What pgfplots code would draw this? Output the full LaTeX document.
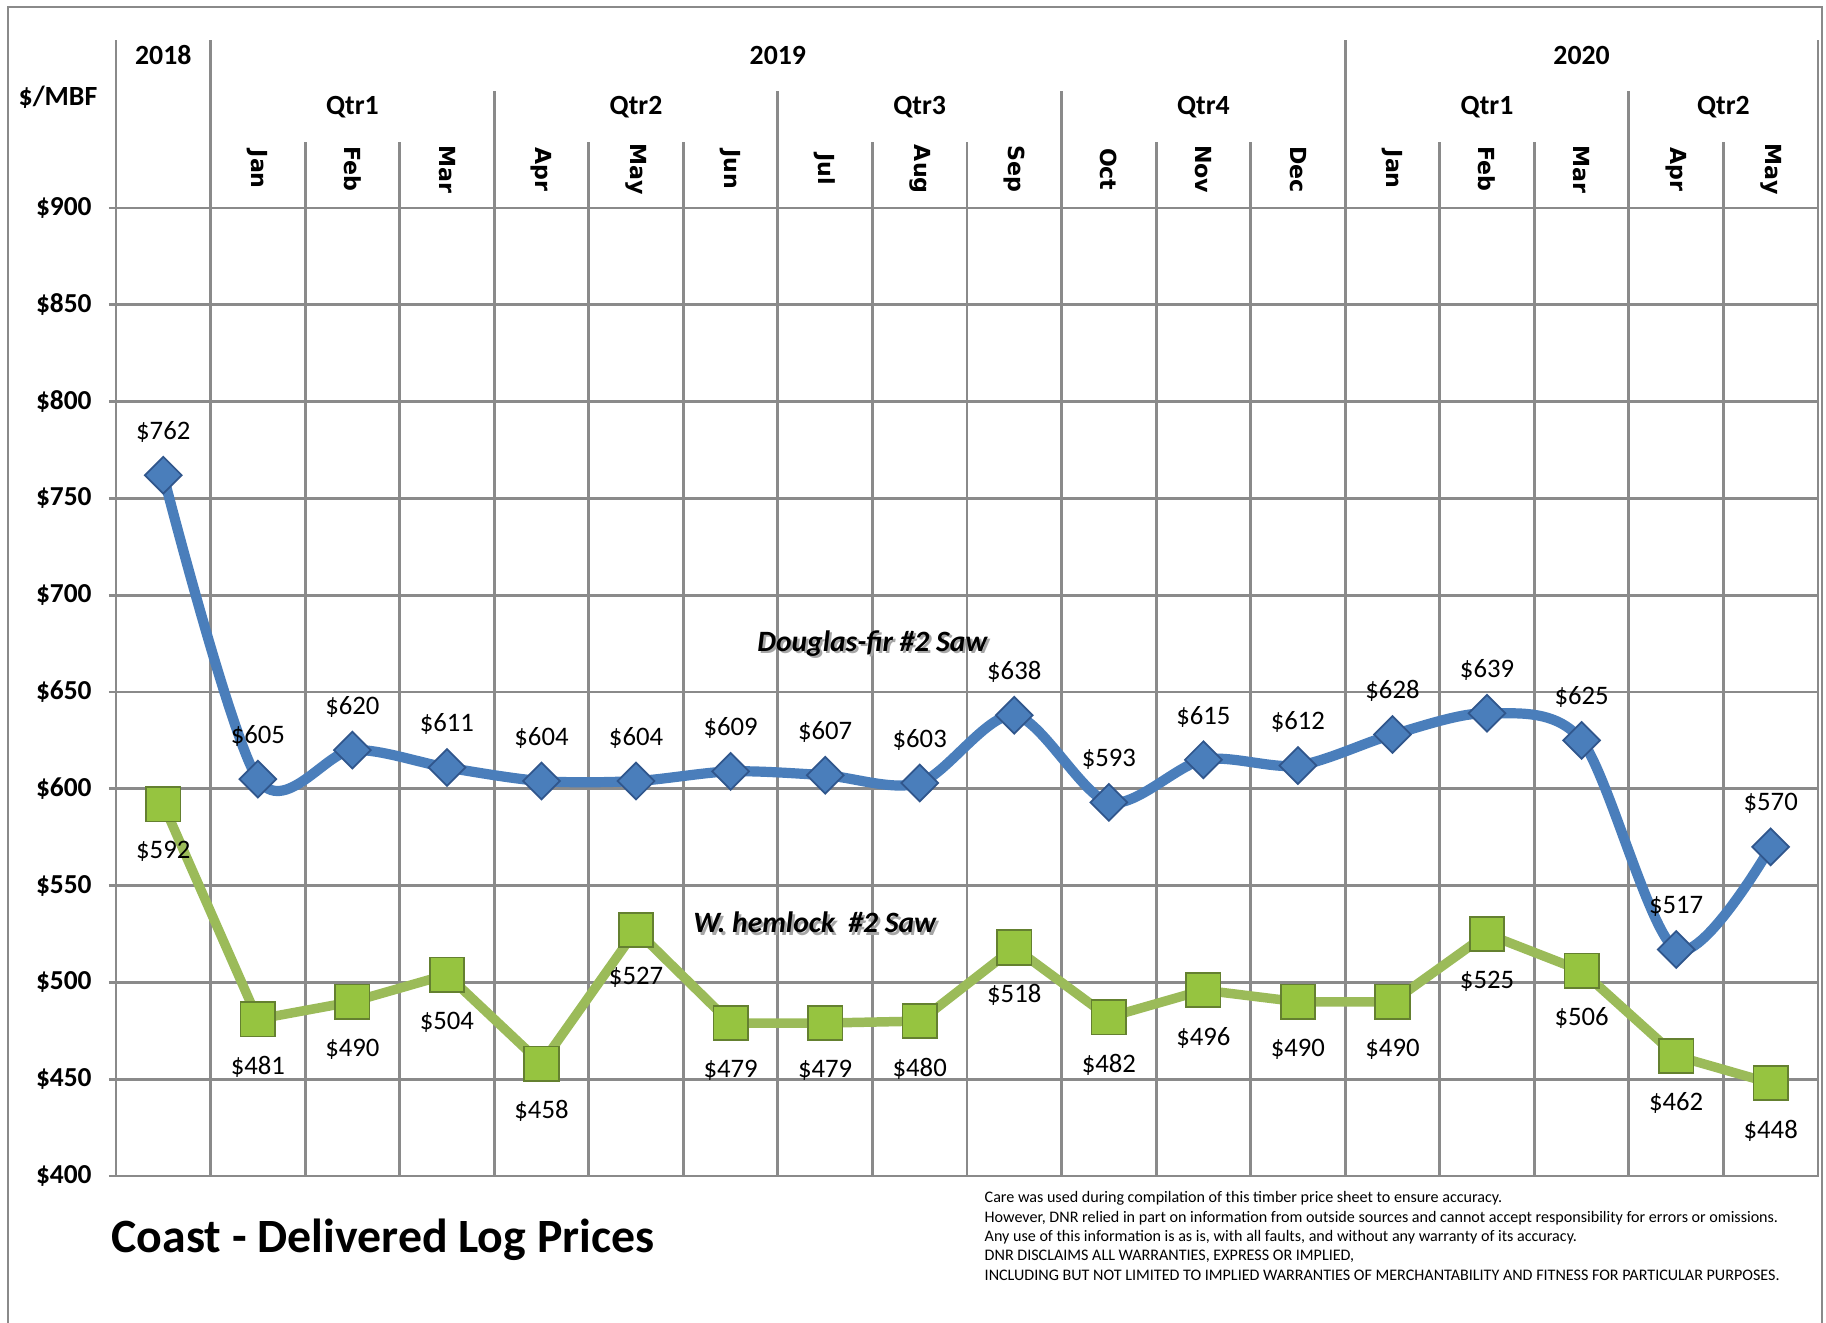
\documentclass[border=0pt]{standalone}
\usepackage{fontspec}
\setmainfont{Carlito}
\newfontfamily\monthfont{DejaVu Sans}
\usepackage{pgfplots}
\usepackage{pgfplotstable}
\pgfplotsset{compat=1.18}
\definecolor{gridgray}{RGB}{138,138,138}
\definecolor{dfblue}{RGB}{74,126,187}
\definecolor{dfedge}{RGB}{48,86,140}
\definecolor{whgreen}{RGB}{155,187,89}
\definecolor{whfill}{RGB}{150,196,64}
\definecolor{whedge}{RGB}{100,128,48}

% x = column centre, df = Douglas-fir #2 Saw, wh = W. hemlock #2 Saw
\pgfplotstableread{
x    df  wh
0.5  762 592
1.5  605 481
2.5  620 490
3.5  611 504
4.5  604 458
5.5  604 527
6.5  609 479
7.5  607 479
8.5  603 480
9.5  638 518
10.5 593 482
11.5 615 496
12.5 612 490
13.5 628 490
14.5 639 525
15.5 625 506
16.5 517 462
17.5 570 448
}\prices

\begin{document}
\begin{tikzpicture}
\path[use as bounding box] (0,0) rectangle (18.26,-13.23);
\draw[gridgray, line width=0.5pt] (0.08,-13.23) -- (0.08,-0.07) -- (18.22,-0.07) -- (18.22,-13.23);

\begin{axis}[
    at={(1.16cm,-11.76cm)}, anchor=south west,
    scale only axis, width=17.02cm, height=9.68cm,
    xmin=0, xmax=18, ymin=400, ymax=900,
    xtick={1,...,17}, xticklabels={},
    major x tick style={draw=none},
    ytick={400,450,...,900},
    tick align=outside, major tick length=0.07cm,
    ytick pos=left,
    xmajorgrids, ymajorgrids,
    grid style={gridgray, line width=0.8pt},
    axis line style={gridgray, line width=0.8pt},
    major y tick style={gridgray, line width=0.8pt},
    /pgf/number format/assume math mode=true,
    yticklabel={\textbf{\$\pgfmathprintnumber{\tick}}},
    yticklabel style={font=\fontsize{7.8}{9}\selectfont, xshift=-0.05cm},
    clip=false,
]
% header dividers
\pgfplotsinvokeforeach{0,1,13,18}{\draw[gridgray, line width=0.8pt] (axis cs:#1,900) -- (axis cs:#1,987);}
\pgfplotsinvokeforeach{4,7,10,16}{\draw[gridgray, line width=0.8pt] (axis cs:#1,900) -- (axis cs:#1,960.5);}
\pgfplotsinvokeforeach{2,3,5,6,8,9,11,12,14,15,17}{\draw[gridgray, line width=0.8pt] (axis cs:#1,900) -- (axis cs:#1,934);}
% header labels
\begin{scope}[font=\fontsize{7.9}{9}\selectfont\bfseries]
\node at (axis cs:0.5,979) {2018};
\node at (axis cs:7,979) {2019};
\node at (axis cs:15.5,979) {2020};
\node at (axis cs:2.5,952) {Qtr1};
\node at (axis cs:5.5,952) {Qtr2};
\node at (axis cs:8.5,952) {Qtr3};
\node at (axis cs:11.5,952) {Qtr4};
\node at (axis cs:14.5,952) {Qtr1};
\node at (axis cs:17,952) {Qtr2};
\end{scope}
\begin{scope}[font=\fontsize{6.3}{8}\monthfont\bfseries]
\node[rotate=-90] at (axis cs:1.5,920) {Jan};
\node[rotate=-90] at (axis cs:2.5,920) {Feb};
\node[rotate=-90] at (axis cs:3.5,920) {Mar};
\node[rotate=-90] at (axis cs:4.5,920) {Apr};
\node[rotate=-90] at (axis cs:5.5,920) {May};
\node[rotate=-90] at (axis cs:6.5,920) {Jun};
\node[rotate=-90] at (axis cs:7.5,920) {Jul};
\node[rotate=-90] at (axis cs:8.5,920) {Aug};
\node[rotate=-90] at (axis cs:9.5,920) {Sep};
\node[rotate=-90] at (axis cs:10.5,920) {Oct};
\node[rotate=-90] at (axis cs:11.5,920) {Nov};
\node[rotate=-90] at (axis cs:12.5,920) {Dec};
\node[rotate=-90] at (axis cs:13.5,920) {Jan};
\node[rotate=-90] at (axis cs:14.5,920) {Feb};
\node[rotate=-90] at (axis cs:15.5,920) {Mar};
\node[rotate=-90] at (axis cs:16.5,920) {Apr};
\node[rotate=-90] at (axis cs:17.5,920) {May};
\end{scope}

\addplot[dfblue, line width=2.9pt, smooth,
    mark=square*, mark size=3.7pt,
    mark options={rotate=45, fill=dfblue, draw=dfedge, line width=0.5pt},
    nodes near coords={\$\pgfmathprintnumber{\pgfplotspointmeta}},
    every node near coord/.append style={font=\fontsize{7.6}{9}\selectfont, black, anchor=center, yshift=12.3pt}]
    table[x=x, y=df] {\prices};
\addplot[whgreen, line width=2.7pt,
    mark=square*, mark size=4.9pt,
    mark options={fill=whfill, draw=whedge, line width=0.5pt},
    nodes near coords={\$\pgfmathprintnumber{\pgfplotspointmeta}},
    every node near coord/.append style={font=\fontsize{7.6}{9}\selectfont, black, anchor=center, yshift=-13.5pt}]
    table[x=x, y=wh] {\prices};

\begin{scope}[font=\fontsize{8.4}{10}\selectfont\bfseries\itshape]
\node[gray!70, xshift=0.7pt, yshift=-0.7pt] at (axis cs:8,675) {Douglas-fir \#2 Saw};
\node at (axis cs:8,675) {Douglas-fir \#2 Saw};
\node[gray!70, xshift=0.7pt, yshift=-0.7pt] at (axis cs:7.39,531) {W. hemlock\ \ \#2 Saw};
\node at (axis cs:7.39,531) {W. hemlock\ \ \#2 Saw};
\end{scope}
\end{axis}

\node[font=\fontsize{7.9}{9}\selectfont\bfseries] at (0.58,-0.97) {\$/MBF};
\node[anchor=west, inner sep=0, font=\fontsize{13.6}{16}\selectfont\bfseries] at (1.11,-12.40) {Coast - Delivered Log Prices};
\node[anchor=north west, inner sep=0, align=left, font=\fontsize{4.58}{5.5}\selectfont] at (9.84,-11.91) {Care was used during compilation of this timber price sheet to ensure accuracy.\\
However, DNR relied in part on information from outside sources and cannot accept responsibility for errors or omissions.\\
Any use of this information is as is, with all faults, and without any warranty of its accuracy.\\
DNR DISCLAIMS ALL WARRANTIES, EXPRESS OR IMPLIED,\\
INCLUDING BUT NOT LIMITED TO IMPLIED WARRANTIES OF MERCHANTABILITY AND FITNESS FOR PARTICULAR PURPOSES.};
\end{tikzpicture}
\end{document}
